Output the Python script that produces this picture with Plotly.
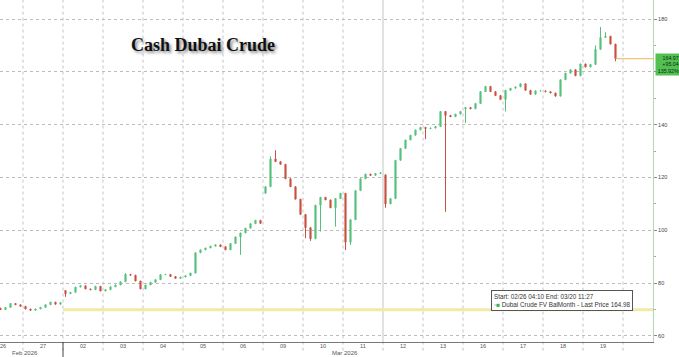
import plotly.graph_objects as go

# ---------------- data ----------------
days = ["26", "27", "02", "03", "04", "05", "06", "09", "10", "11", "12", "13", "16", "17", "18", "19"]
month_labels = ["Feb 2026", "Mar 2026"]
slots_per_day = 8  # 3-hour bars

# first open of each session
session_open = [70.5, 71.2, 77.2, 77.0, 77.8, 82.3, 93.8, 114.0,
                106.0, 114.0, 121.0, 139.0, 146.0, 149.5, 152.8, 163.0]

# closes, 8 bars per session (None = no data)
closes = [
    None, None, None, 70.0, 70.8, 72.3, 71.8, 71.2,      # Feb 26
    70.2, 69.7, 70.2, 70.8, 71.8, 72.8, 72.0, 72.6,      # Feb 27
    76.0, 76.5, 78.5, 79.0, 77.8, 77.5, 78.8, 77.0,      # Mar 02
    77.5, 78.6, 79.3, 80.5, 83.3, 83.0, 80.8, 77.8,      # Mar 03
    79.3, 80.3, 81.3, 83.2, 83.3, 82.5, 81.8, 82.3,      # Mar 04
    82.8, 83.8, 91.5, 92.6, 93.3, 94.0, 94.5, 93.8,      # Mar 05
    92.6, 95.0, 97.5, 99.0, 100.8, 102.5, 103.8, 102.6,  # Mar 06
    116.5, 127.0, 126.0, 125.0, 119.5, 116.5, 111.8, 106.0,  # Mar 09
    101.0, 96.8, 109.5, 112.5, 111.5, 108.5, 112.0, 114.0,   # Mar 10
    95.5, 104.0, 115.0, 119.5, 121.3, 120.8, 121.5, 121.8,   # Mar 11
    110.0, 112.0, 126.5, 131.0, 134.2, 136.0, 138.0, 139.0,  # Mar 12
    138.5, 138.7, 139.3, 145.0, 143.5, 143.0, 144.0, 145.0,  # Mar 13
    146.5, 146.0, 148.0, 152.5, 154.5, 152.5, 151.0, 149.5,  # Mar 16
    153.0, 153.8, 154.3, 155.5, 153.0, 151.5, 152.8, 152.8,  # Mar 17
    152.5, 152.0, 150.8, 157.0, 159.5, 160.8, 158.5, 163.0,  # Mar 18
    161.8, 162.8, 168.5, 173.0, 173.5, 170.5, 164.98, None,  # Mar 19
]

# long wicks (session index, bar index) -> price
wick_low = {(2, 0): 74.8, (5, 2): 84.3, (6, 3): 90.7, (8, 0): 97.0, (8, 1): 96.0,
            (8, 3): 99.5, (8, 6): 101.4, (9, 0): 92.5, (9, 1): 94.5, (10, 0): 108.5,
            (11, 0): 134.5, (11, 4): 107.0, (12, 0): 140.6, (13, 0): 145.0, (15, 6): 164.0}
wick_high = {(3, 4): 83.8, (7, 1): 128.0, (7, 2): 130.3, (15, 2): 170.0,
             (15, 3): 177.0, (15, 4): 175.0}

last_price = 164.97
net_change = 95.04
pct_change = 135.92
start_price = round(last_price - net_change, 2)
y_ticks = [60, 80, 100, 120, 140, 160, 180]

# ---------------- build OHLC ----------------
xs, o, h, l, c = [], [], [], [], []
for d in range(len(days)):
    prev = session_open[d]
    for k in range(slots_per_day):
        cl = closes[d * slots_per_day + k]
        if cl is None:
            continue
        op = prev
        hi = max(op, cl, wick_high.get((d, k), cl))
        lo = min(op, cl, wick_low.get((d, k), cl))
        xs.append(d + (k + 0.5) / slots_per_day)
        o.append(op); h.append(hi); l.append(lo); c.append(cl)
        prev = cl

W, H = 679, 357
ML, MR, MT, MB = 0, 26, 0, 15
PW, PH = W - ML - MR, H - MT - MB
x_range = [0.425, 16.75]
y_range = [57.7, 187.2]

def px_x(p):   # pixel -> paper x
    return (p - ML) / PW

def px_y(p):   # pixel -> paper y
    return 1 - (p - MT) / PH

fig = go.Figure()

# start price reference line
fig.add_trace(go.Scatter(x=[2, x_range[1]], y=[start_price, start_price], mode="lines",
                         line=dict(color="#f1e9a6", width=3), hoverinfo="skip", showlegend=False))
# last price line
fig.add_trace(go.Scatter(x=[xs[-1], x_range[1]], y=[last_price, last_price], mode="lines",
                         line=dict(color="#f0b45a", width=1), hoverinfo="skip", showlegend=False))

fig.add_trace(go.Candlestick(
    x=xs, open=o, high=h, low=l, close=c,
    increasing=dict(line=dict(color="#55c07c", width=1), fillcolor="#55c07c"),
    decreasing=dict(line=dict(color="#c8503e", width=1), fillcolor="#c8503e"),
    whiskerwidth=0, hoverinfo="skip", showlegend=False))

shapes = []
for b in range(1, len(days) + 1):
    if x_range[0] < b < x_range[1]:
        shapes.append(dict(type="line", xref="x", yref="paper", x0=b, x1=b, y0=-0.025, y1=1,
                           line=dict(color="#c4c4c4", width=1, dash="dot"), layer="below"))
# month boundary separator
shapes.append(dict(type="line", xref="x", yref="paper", x0=2, x1=2, y0=-0.05, y1=0,
                   line=dict(color="#444", width=1)))
# session marker
shapes.append(dict(type="line", xref="x", yref="paper", x0=10, x1=10, y0=0, y1=1,
                   line=dict(color="#e2e2e2", width=2), layer="below"))

annotations = []
# day labels
for i, dl in enumerate(days):
    annotations.append(dict(x=i + 0.5, xref="x", y=px_y(346), yref="paper", text=dl,
                            showarrow=False, xanchor="center", yanchor="middle",
                            font=dict(family="Liberation Sans", size=5.5, color="#555")))
annotations.append(dict(x=px_x(10), xref="paper", y=px_y(352.5), yref="paper", text=month_labels[0],
                        showarrow=False, xanchor="left", yanchor="middle",
                        font=dict(family="Liberation Sans", size=6, color="#555")))
annotations.append(dict(x=px_x(330), xref="paper", y=px_y(352.5), yref="paper", text=month_labels[1],
                        showarrow=False, xanchor="left", yanchor="middle",
                        font=dict(family="Liberation Sans", size=6, color="#555")))
# title
annotations.append(dict(x=px_x(203), xref="paper", y=px_y(45), yref="paper",
                        text="<b>Cash Dubai Crude</b>", showarrow=False,
                        xanchor="center", yanchor="middle",
                        font=dict(family="Liberation Serif", size=18, color="#111",
                                  shadow="2px 2px 3px #888")))
# legend box
annotations.append(dict(x=px_x(491), xref="paper", y=px_y(290), yref="paper",
                        text="Start: 02/26 04:10 End: 03/20 11:27<br>"
                             "<span style='color:#999'>▫</span><span style='color:#3fb34f'>■</span> "
                             f"Dubai Crude FV BalMonth - Last Price {last_price + 0.01:.2f}",
                        showarrow=False, xanchor="left", yanchor="top", align="left",
                        bgcolor="white", bordercolor="#555", borderwidth=1, borderpad=2,
                        font=dict(family="Liberation Sans", size=6.3, color="#333")))
# last price tag
annotations.append(dict(x=px_x(655), xref="paper", y=px_y(53), yref="paper",
                        text=f"{last_price:.2f}<br>+{net_change:.2f}<br>{pct_change:.2f}%",
                        showarrow=False, xanchor="left", yanchor="top", align="right",
                        width=23, height=21, bgcolor="#52c152", borderpad=0,
                        font=dict(family="Liberation Sans", size=5.3, color="#102a10")))

fig.update_layout(
    width=W, height=H, margin=dict(l=ML, r=MR, t=MT, b=MB),
    paper_bgcolor="white", plot_bgcolor="white", boxgap=0.68,
    shapes=shapes, annotations=annotations, showlegend=False,
    xaxis=dict(range=x_range, showgrid=False, zeroline=False, showticklabels=False,
               showline=True, linecolor="#777", linewidth=1, ticks="",
               rangeslider=dict(visible=False), fixedrange=True),
    yaxis=dict(range=y_range, side="right", tickvals=y_ticks, showgrid=True,
               gridcolor="#bcbcbc", griddash="dot", gridwidth=1, zeroline=False,
               showline=True, linecolor="#b3d9b3", linewidth=1,
               ticks="outside", ticklen=3, tickcolor="#888",
               tickfont=dict(family="Liberation Sans", size=5.5, color="#444"),
               minor=dict(dtick=10, ticks="outside", ticklen=2, tickcolor="#aaa", showgrid=False),
               fixedrange=True),
)

fig.write_html("out.html", config={"displayModeBar": False},
               post_script="document.body.style.margin='0px';")
